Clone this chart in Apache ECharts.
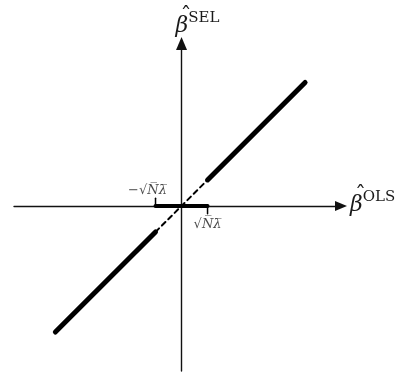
<!DOCTYPE html>
<html>
<head>
<meta charset="utf-8">
<script src="https://cdn.jsdelivr.net/npm/echarts@6/dist/echarts.min.js"></script>
<style>
  html, body { margin: 0; padding: 0; background: #fff; }
  #chart { width: 404px; height: 374px; }
</style>
</head>
<body>
<div id="chart"></div>
<script>
// Hard-thresholding (selection) estimator as a function of the OLS estimate.
const threshold = 1;            // sqrt(N * lambda)
const olsLow = -4.85;           // left end of the drawn estimator
const olsHigh = 4.75;           // right end of the drawn estimator
const tickHeight = 0.3;         // small marks at +/- threshold
const xRange = [-6.44, 6.13];
const yRange = [-6.35, 6.25];
const xName = ['\u03B2', 'OLS'];
const yName = ['\u03B2', 'SEL'];

const keptLow = [[olsLow, olsLow], [-threshold, -threshold]];
const keptHigh = [[threshold, threshold], [olsHigh, olsHigh]];
const identityGap = [[-threshold, -threshold], [threshold, threshold]];
const zeroed = [[-threshold, 0], [threshold, 0]];
const tickLeft = [[-threshold, 0], [-threshold, tickHeight]];
const tickRight = [[threshold, 0], [threshold, -tickHeight]];

const serif = '"DejaVu Serif", "Liberation Serif", serif';
const ink = '#1a1a1a';
const nameRich = {
  h: { fontFamily: serif, fontSize: 22, color: ink, lineHeight: 1, padding: [0, 0, 0, 5] },
  b: { fontFamily: serif, fontStyle: 'italic', fontSize: 22, color: ink, lineHeight: 17 },
  // superscript: bottom padding lifts the text inside its token box
  s: { fontFamily: serif, fontSize: 15, color: ink, lineHeight: 2, padding: [0, 0, 15, 0] }
};
// hat on its own short line, estimator symbol and superscript below it
const hatted = (parts) => '{h|\u02C6}\n{b|' + parts[0] + '}{s|' + parts[1] + '}';

const rootRich = {
  m: { fontFamily: serif, fontSize: 13, color: ink },
  v: { fontFamily: serif, fontStyle: 'italic', fontSize: 13, color: ink }
};
const rootLabel = (sign) => '{m|' + sign + '\u221A}{v|N\u0305\u03BB\u0305}';

function seg(data, width, type) {
  return {
    type: 'line', data: data, showSymbol: false, symbol: 'none', silent: true,
    lineStyle: { color: '#000', width: width, type: type || 'solid', cap: 'round' },
    z: 3
  };
}

const chart = echarts.init(document.getElementById('chart'), null, { renderer: 'canvas' });
chart.setOption({
  animation: false,
  backgroundColor: '#fff',
  grid: { left: 14, right: 63, top: 43.5, bottom: 3, containLabel: false },
  xAxis: {
    type: 'value', min: xRange[0], max: xRange[1],
    axisLine: { onZero: true, symbol: ['none', 'triangle'], symbolSize: [10, 12],
      lineStyle: { color: '#111', width: 1.4 } },
    axisTick: { show: false }, axisLabel: { show: false }, splitLine: { show: false },
    name: hatted(xName), nameLocation: 'end', nameGap: 9,
    nameTextStyle: { rich: nameRich, align: 'left', padding: [0, 0, 3, 0] }
  },
  yAxis: {
    type: 'value', min: yRange[0], max: yRange[1],
    axisLine: { onZero: true, symbol: ['none', 'triangle'], symbolSize: [11, 13],
      lineStyle: { color: '#111', width: 1.4 } },
    axisTick: { show: false }, axisLabel: { show: false }, splitLine: { show: false },
    name: hatted(yName), nameLocation: 'end', nameGap: 9,
    nameTextStyle: { rich: nameRich, align: 'left', padding: [0, 0, 0, -6] }
  },
  series: [
    seg(keptLow, 5),
    seg(keptHigh, 5),
    seg(identityGap, 2, [5, 4]),
    seg(zeroed, 4),
    seg(tickLeft, 1.5),
    seg(tickRight, 1.5),
    {
      type: 'scatter', symbolSize: 0, silent: true,
      data: [
        { value: tickLeft[1], label: { position: 'top', offset: [-8, 1], formatter: rootLabel('\u2212') } },
        { value: tickRight[1], label: { position: 'bottom', offset: [0, 2], formatter: rootLabel('') } }
      ],
      label: { show: true, rich: rootRich, distance: 2 }
    }
  ]
});
</script>
</body>
</html>
